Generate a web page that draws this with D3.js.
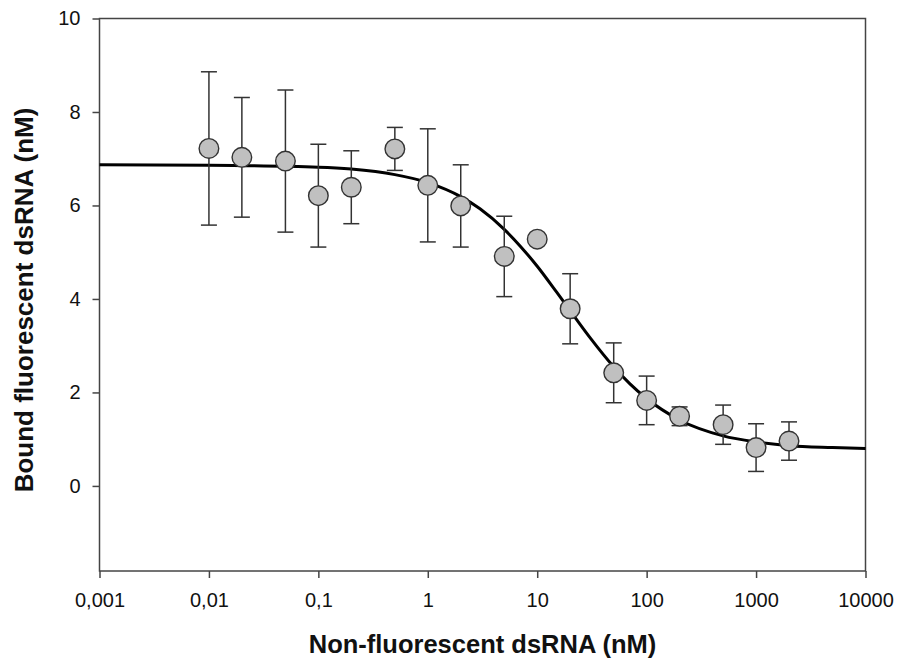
<!DOCTYPE html>
<html>
<head>
<meta charset="utf-8">
<script src="https://cdn.jsdelivr.net/npm/d3@7"></script>
<style>
  body { margin: 0; background: #fff; }
  svg { display: block; font-family: "Liberation Sans", Arial, sans-serif; }
</style>
</head>
<body>
<svg id="chart" width="902" height="663"></svg>
<script>
// competitor concentrations (nM)
var concentrations = [0.01, 0.02, 0.05, 0.1, 0.2, 0.5, 1, 2, 5, 10, 20, 50, 100, 200, 500, 1000, 2000];
// bound fluorescent dsRNA (nM), mean
var boundMean = [7.22, 7.03, 6.95, 6.21, 6.39, 7.21, 6.43, 5.99, 4.91, 5.28, 3.79, 2.42, 1.83, 1.49, 1.31, 0.82, 0.96];
// error (+/-), 0 = no bar drawn
var boundErr = [1.64, 1.28, 1.52, 1.10, 0.78, 0.46, 1.21, 0.88, 0.86, 0, 0.75, 0.64, 0.52, 0.20, 0.42, 0.51, 0.41];

// fitted curve
var fitX = [0.001, 0.01, 0.1, 0.2, 0.5, 1, 2, 3, 5, 7, 10, 15, 20, 30, 50, 70, 100, 200, 500, 1000, 2000, 5000, 10000];
var fitY = [6.87, 6.86, 6.82, 6.78, 6.66, 6.49, 6.19, 5.93, 5.49, 5.13, 4.70, 4.15, 3.75, 3.19, 2.55, 2.19, 1.87, 1.41, 1.07, 0.94, 0.86, 0.82, 0.80];

var xTicks = [0.001, 0.01, 0.1, 1, 10, 100, 1000, 10000];
var xTickLabels = ["0,001", "0,01", "0,1", "1", "10", "100", "1000", "10000"];
var yTicks = [0, 2, 4, 6, 8, 10];

var margin = {left: 99.5, top: 18.5};
var width = 766;
var height = 552.5;
var axisColor = "#444";

var svg = d3.select("#chart");
var g = svg.append("g").attr("transform", "translate(" + margin.left + "," + margin.top + ")");

var x = d3.scaleLog().domain([0.001, 10000]).range([0, width]);
var y = d3.scaleLinear().domain([-1.82, 10]).range([height, 0]);

// x axis
var xAxis = g.append("g")
  .attr("transform", "translate(0," + height + ")")
  .call(d3.axisBottom(x).tickValues(xTicks).tickSize(7).tickPadding(15)
    .tickFormat(function(d, i) { return xTickLabels[i]; }));
xAxis.select(".domain").remove();
xAxis.selectAll("line").attr("stroke", axisColor).attr("stroke-width", 1.5);
xAxis.selectAll("text").attr("fill", "#111").style("font-size", "20px");

// y axis
var yAxis = g.append("g")
  .call(d3.axisLeft(y).tickValues(yTicks).tickSize(7).tickPadding(12));
yAxis.select(".domain").remove();
yAxis.selectAll("line").attr("stroke", axisColor).attr("stroke-width", 1.5);
yAxis.selectAll("text").attr("fill", "#111").style("font-size", "20px");

// frame
g.append("rect")
  .attr("width", width).attr("height", height)
  .attr("fill", "none").attr("stroke", axisColor).attr("stroke-width", 1.5);

// fitted curve
var line = d3.line()
  .x(function(d, i) { return x(fitX[i]); })
  .y(function(d) { return y(d); })
  .curve(d3.curveMonotoneX);
g.append("path")
  .datum(fitY)
  .attr("d", line)
  .attr("fill", "none")
  .attr("stroke", "#000")
  .attr("stroke-width", 3);

// error bars
var capW = 8;
var bars = g.selectAll(".errbar")
  .data(concentrations.map(function(c, i) { return {c: c, m: boundMean[i], e: boundErr[i]}; })
    .filter(function(d) { return d.e > 0; }))
  .enter().append("g").attr("class", "errbar")
  .attr("stroke", "#333").attr("stroke-width", 1.5);
bars.append("line")
  .attr("x1", function(d) { return x(d.c); }).attr("x2", function(d) { return x(d.c); })
  .attr("y1", function(d) { return y(d.m + d.e); }).attr("y2", function(d) { return y(d.m - d.e); });
bars.append("line")
  .attr("x1", function(d) { return x(d.c) - capW; }).attr("x2", function(d) { return x(d.c) + capW; })
  .attr("y1", function(d) { return y(d.m + d.e); }).attr("y2", function(d) { return y(d.m + d.e); });
bars.append("line")
  .attr("x1", function(d) { return x(d.c) - capW; }).attr("x2", function(d) { return x(d.c) + capW; })
  .attr("y1", function(d) { return y(d.m - d.e); }).attr("y2", function(d) { return y(d.m - d.e); });

// points
g.selectAll(".pt")
  .data(concentrations)
  .enter().append("circle").attr("class", "pt")
  .attr("cx", function(d) { return x(d); })
  .attr("cy", function(d, i) { return y(boundMean[i]); })
  .attr("r", 9.8)
  .attr("fill", "#c0c0c0")
  .attr("stroke", "#333")
  .attr("stroke-width", 1.4);

// axis titles
svg.append("text")
  .attr("x", margin.left + width / 2).attr("y", 653)
  .attr("text-anchor", "middle")
  .style("font-size", "25.5px").style("font-weight", "bold").attr("fill", "#111")
  .text("Non-fluorescent dsRNA (nM)");

svg.append("text")
  .attr("transform", "translate(33,300) rotate(-90)")
  .attr("text-anchor", "middle")
  .style("font-size", "26px").style("font-weight", "bold").attr("fill", "#111")
  .text("Bound fluorescent dsRNA (nM)");
</script>
</body>
</html>
